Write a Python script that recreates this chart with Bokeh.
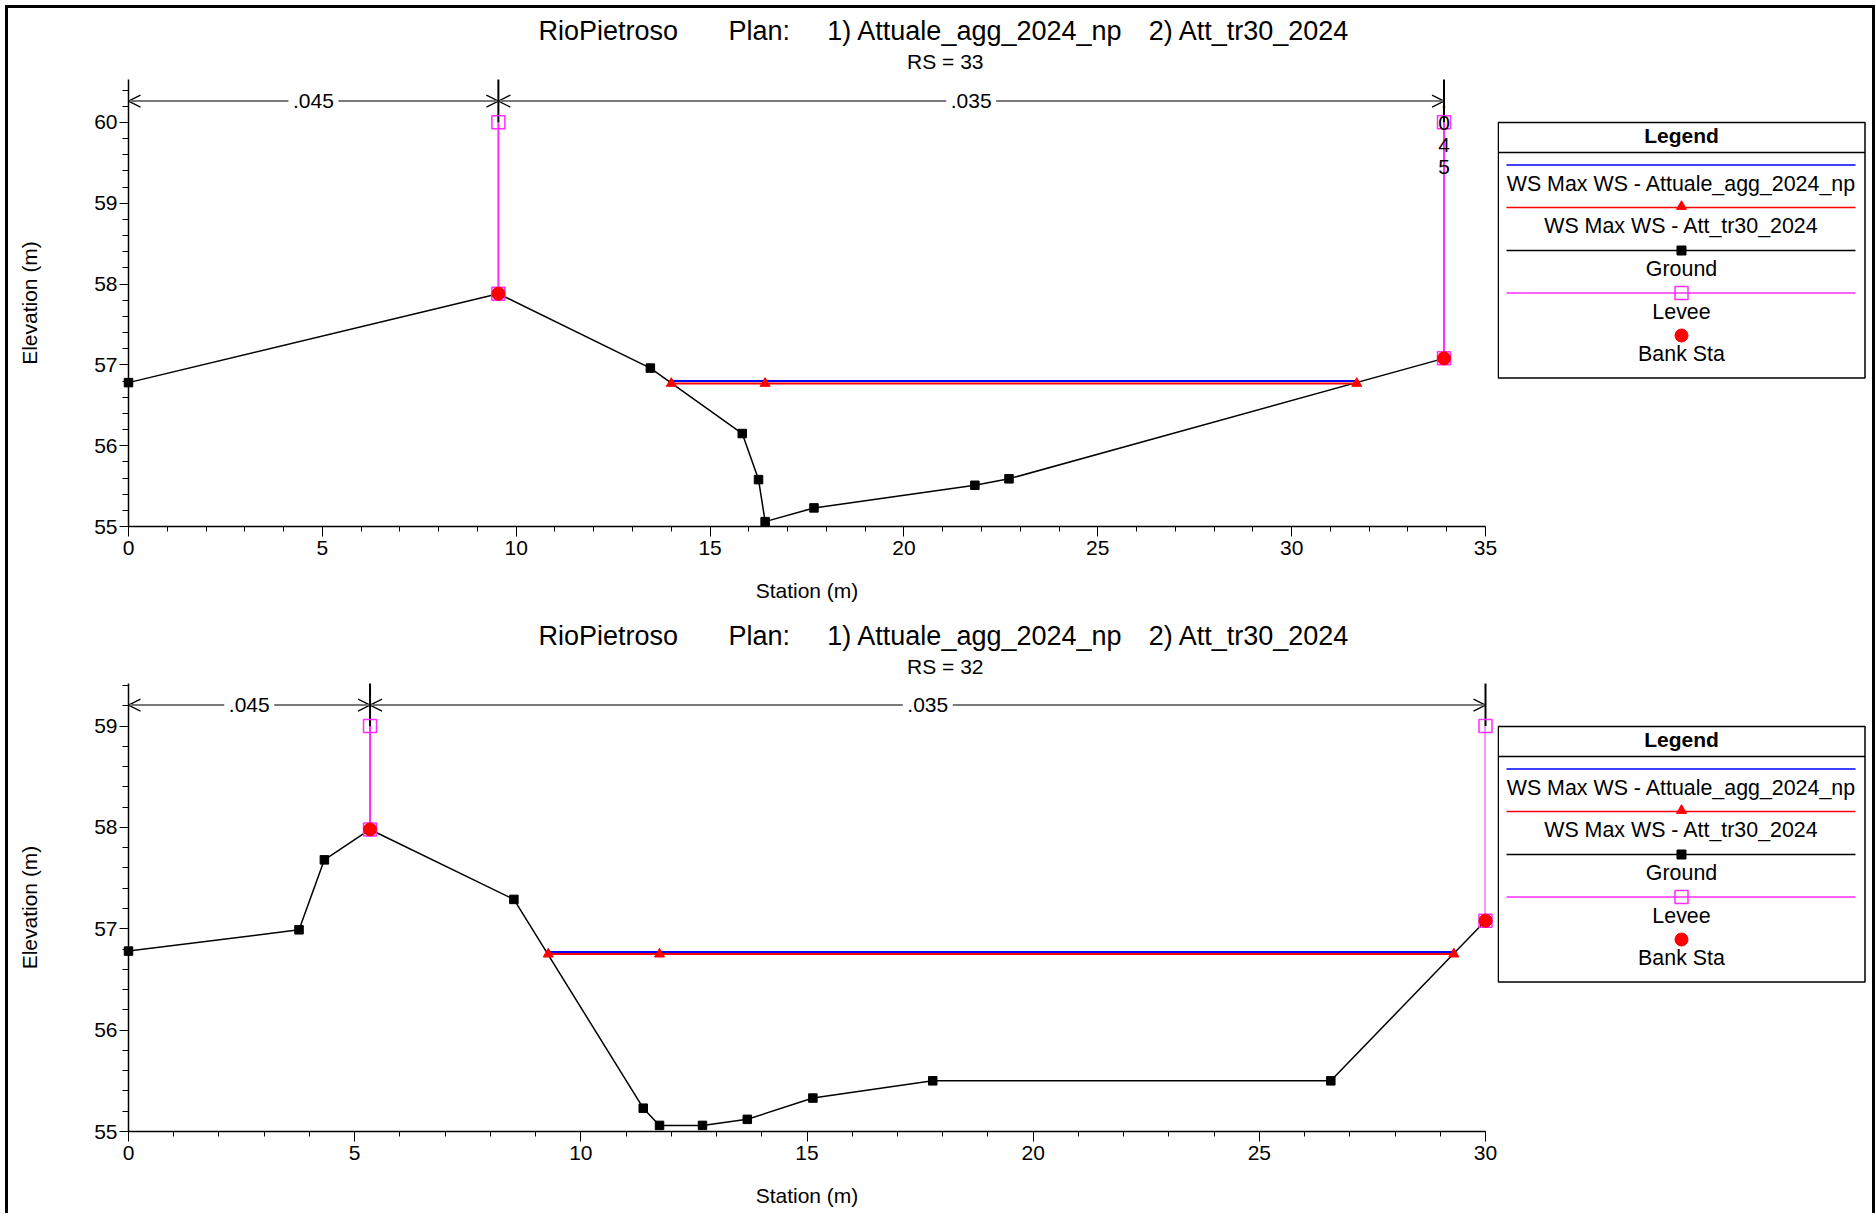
from bokeh.plotting import figure
from bokeh.models import Range1d, SingleIntervalTicker, Arrow, OpenHead, Div, Spacer
from bokeh.layouts import column, row
from bokeh.embed import file_html
from bokeh.resources import INLINE
from bokeh.core.properties import value

# ---------------------------------------------------------------- data
river = "RioPietroso"
plan_label = "Plan:"
plan_1 = "1) Attuale_agg_2024_np"
plan_2 = "2) Att_tr30_2024"
x_label = "Station (m)"
y_label = "Elevation (m)"
legend_title = "Legend"
legend_labels = ["WS Max WS - Attuale_agg_2024_np", "WS Max WS - Att_tr30_2024",
                 "Ground", "Levee", "Bank Sta"]

# RS = 33
rs33_label = "RS = 33"
rs33_station = [0.0, 9.54, 13.46, 15.83, 16.25, 16.42, 17.68, 21.83, 22.71, 33.93]
rs33_ground = [56.78, 57.88, 56.96, 56.15, 55.58, 55.06, 55.23, 55.51, 55.59, 57.08]
rs33_ws1_station = [14.00, 31.68]
rs33_ws1 = [56.80, 56.80]
rs33_ws2_station = [14.00, 16.42, 31.68]
rs33_ws2 = [56.77, 56.77, 56.77]
rs33_levee_station = [9.54, 33.93]
rs33_levee_top = [60.0, 60.0]
rs33_levee_base = [57.88, 57.08]
rs33_bank_station = [9.54, 33.93]
rs33_bank_elev = [57.88, 57.08]
rs33_n_bounds = [0.0, 9.54, 33.93, 33.93]
rs33_n_values = [".045", ".035", ".045"]
rs33_x_range = (0, 35)
rs33_y_range = (55, 60.53)
rs33_bank_line_low = 60.0

# RS = 32
rs32_label = "RS = 32"
rs32_station = [0.0, 3.77, 4.33, 5.34, 8.52, 11.38, 11.74, 12.69, 13.68, 15.13, 17.78, 26.58, 30.0]
rs32_ground = [56.78, 56.99, 57.68, 57.98, 57.29, 55.23, 55.06, 55.06, 55.12, 55.33, 55.50, 55.50, 57.08]
rs32_ws1_station = [9.28, 29.30]
rs32_ws1 = [56.77, 56.77]
rs32_ws2_station = [9.28, 11.74, 29.30]
rs32_ws2 = [56.75, 56.75, 56.75]
rs32_levee_station = [5.34, 30.0]
rs32_levee_top = [59.0, 59.0]
rs32_levee_base = [57.98, 57.08]
rs32_bank_station = [5.34, 30.0]
rs32_bank_elev = [57.98, 57.08]
rs32_n_bounds = [0.0, 5.34, 30.0]
rs32_n_values = [".045", ".035"]
rs32_x_range = (0, 30)
rs32_y_range = (55, 59.42)
rs32_bank_line_low = 59.0

# ---------------------------------------------------------------- style
FONT = "Liberation Sans"
BLUE = "#0000FF"
RED = "#FF0000"
MAG = "#FF2EFF"
GREY = "#7a7a7a"
TOTAL_W = 1864
MAIN_W = 1489
LEG_W = TOTAL_W - MAIN_W


def base_fig(w, h, **kw):
    p = figure(width=w, height=h, output_backend="svg", toolbar_location=None, **kw)
    p.outline_line_color = None
    p.background_fill_color = "white"
    p.border_fill_color = "white"
    return p


def title_fig(h, rs_text):
    t = base_fig(TOTAL_W, h, x_range=Range1d(0, TOTAL_W), y_range=Range1d(h, 0),
                 min_border=0, x_axis_type=None, y_axis_type=None)
    t.grid.visible = False
    t.text(x=[530, 720, 818.8, 1140.2], y=[22.2] * 4,
           text=[river, plan_label, plan_1, plan_2],
           text_font=value(FONT), text_font_size="27px", text_color="black",
           text_align="left", text_baseline="middle")
    t.text(x=[936.8], y=[53.4], text=[rs_text], text_font=value(FONT),
           text_font_size="21px", text_color="black", text_align="center",
           text_baseline="middle")
    return t


def legend_fig(h, frame_h):
    L = base_fig(LEG_W, h, x_range=Range1d(0, LEG_W), y_range=Range1d(frame_h, 0),
                 min_border_left=0, min_border_right=0, min_border_top=0,
                 min_border_bottom=h - frame_h, x_axis_type=None, y_axis_type=None)
    L.grid.visible = False
    L.quad(left=[0.75], right=[367.5], top=[43], bottom=[298.5], fill_color=None,
           line_color="black", line_width=1.5)
    L.segment(x0=[0.75], y0=[73], x1=[367.5], y1=[73], line_color="black", line_width=1.5)
    L.text(x=[184], y=[56], text=[legend_title], text_font=value(FONT),
           text_font_size="21px", text_font_style="bold", text_color="black",
           text_align="center", text_baseline="middle")
    line_y = [85.5, 128, 171, 213.5, 256]
    lab_y = [104.5, 146, 189, 232, 274]
    line_cols = [BLUE, RED, "black", MAG]
    L.segment(x0=[9] * 4, y0=line_y[:4], x1=[358] * 4, y1=line_y[:4],
              line_color=line_cols, line_width=1.5)
    L.scatter(x=[184], y=[line_y[1] - 1], marker="triangle", size=10, color=RED)
    L.scatter(x=[184], y=[line_y[2]], marker="square", size=9, color="black")
    L.scatter(x=[184], y=[line_y[3]], marker="square", size=13, fill_color=None,
              line_color=MAG, line_width=1.5)
    L.scatter(x=[184], y=[line_y[4]], marker="circle", size=13, color=RED)
    L.text(x=[184] * 5, y=lab_y, text=legend_labels, text_font=value(FONT),
           text_font_size="21.4px", text_color="black", text_align="center",
           text_baseline="middle")
    return L


def main_fig(h, frame_h, xr, yr, station, ground, ws1_s, ws1, ws2_s, ws2, lev_s, lev_top,
             lev_base, bank_s, bank_e, n_bounds, n_vals, bank_low):
    p = base_fig(MAIN_W, h, x_range=Range1d(*xr), y_range=Range1d(*yr),
                 min_border_left=120, min_border_right=12, min_border_top=0,
                 min_border_bottom=h - frame_h, x_axis_label=x_label, y_axis_label=y_label)
    p.grid.visible = False
    p.xaxis.ticker = SingleIntervalTicker(interval=5, num_minor_ticks=5)
    p.yaxis.ticker = SingleIntervalTicker(interval=1, num_minor_ticks=5)
    for ax in (p.xaxis[0], p.yaxis[0]):
        ax.axis_line_color = "black"
        ax.axis_line_width = 1.5
        ax.major_tick_line_color = "black"
        ax.minor_tick_line_color = "black"
        ax.major_tick_line_width = 1
        ax.minor_tick_line_width = 1
        ax.major_tick_in = 0
        ax.minor_tick_in = 0
        ax.major_label_text_font = FONT
        ax.major_label_text_font_size = "21px"
        ax.major_label_text_color = "black"
        ax.axis_label_text_font = FONT
        ax.axis_label_text_font_size = "21px"
        ax.axis_label_text_font_style = "normal"
        ax.axis_label_text_color = "black"
    p.xaxis.major_tick_out = 10
    p.xaxis.minor_tick_out = 5
    p.xaxis.major_label_standoff = 4
    p.xaxis.axis_label_standoff = 21
    p.yaxis.major_tick_out = 9
    p.yaxis.minor_tick_out = 6
    p.yaxis.major_label_standoff = 2
    p.yaxis.axis_label_standoff = 50

    upp = (yr[1] - yr[0]) / frame_h
    y_arrow = yr[1] - 21.6 * upp

    # roughness zones
    mids, labs = [], []
    stack_x, stack_y, stack_t = [], [], []
    for a, b, lab in zip(n_bounds[:-1], n_bounds[1:], n_vals):
        if b - a > 0:
            arr = Arrow(x_start=a, y_start=y_arrow, x_end=b, y_end=y_arrow,
                        start=OpenHead(size=12, line_color="black", line_width=1.2),
                        end=OpenHead(size=12, line_color="black", line_width=1.2),
                        line_color=GREY, line_width=2, level="underlay")
            p.add_layout(arr)
            mids.append((a + b) / 2)
            labs.append(lab)
        else:
            for k, ch in enumerate(lab):
                stack_x.append(a)
                stack_y.append(y_arrow - k * 22 * upp)
                stack_t.append(ch)
    p.rect(x=mids, y=[y_arrow] * len(mids), width=50, height=18, width_units="screen",
           height_units="screen", fill_color="white", line_color=None)
    p.text(x=mids, y=[y_arrow] * len(mids), text=labs, text_font=value(FONT),
           text_font_size="21px", text_color="black", text_align="center",
           text_baseline="middle")

    bx = sorted(set(n_bounds[1:]))
    p.segment(x0=bx, y0=[bank_low] * len(bx), x1=bx, y1=[yr[1]] * len(bx),
              line_color="black", line_width=2, level="overlay")

    # levee
    p.segment(x0=lev_s, y0=lev_base, x1=lev_s, y1=lev_top, line_color=MAG, line_width=2)
    # ground
    p.line(station, ground, line_color="black", line_width=1.5)
    p.scatter(station, ground, marker="square", size=8.5, color="black", level="overlay")
    # water surfaces
    p.line(ws1_s, ws1, line_color=BLUE, line_width=2)
    p.line(ws2_s, ws2, line_color=RED, line_width=2)
    p.scatter(ws2_s, ws2, marker="triangle", size=10, color=RED)
    # levee markers and bank stations
    p.scatter(lev_s + lev_s, lev_top + lev_base, marker="square", size=13,
              fill_color=None, line_color=MAG, line_width=1.5, level="overlay")
    p.scatter(bank_s, bank_e, marker="circle", size=13, color=RED, level="overlay")

    if stack_t:
        p.text(x=stack_x, y=stack_y, text=stack_t, text_font=value(FONT),
               text_font_size="21px", text_color="black", text_align="center",
               text_baseline="middle", level="overlay")
    return p


H1_T, H1_M, F1 = 71, 534, 447
H2_T, H2_M, F2 = 70, 530, 448

top_title = title_fig(H1_T, rs33_label)
top_main = main_fig(H1_M, F1, rs33_x_range, rs33_y_range, rs33_station, rs33_ground,
                    rs33_ws1_station, rs33_ws1, rs33_ws2_station, rs33_ws2,
                    rs33_levee_station, rs33_levee_top, rs33_levee_base,
                    rs33_bank_station, rs33_bank_elev, rs33_n_bounds, rs33_n_values,
                    rs33_bank_line_low)
top_leg = legend_fig(H1_M, F1)

bot_title = title_fig(H2_T, rs32_label)
bot_main = main_fig(H2_M, F2, rs32_x_range, rs32_y_range, rs32_station, rs32_ground,
                    rs32_ws1_station, rs32_ws1, rs32_ws2_station, rs32_ws2,
                    rs32_levee_station, rs32_levee_top, rs32_levee_base,
                    rs32_bank_station, rs32_bank_elev, rs32_n_bounds, rs32_n_values,
                    rs32_bank_line_low)
bot_leg = legend_fig(H2_M, F2)

content = column(top_title, row(top_main, top_leg), bot_title, row(bot_main, bot_leg))
content_h = H1_T + H1_M + H2_T + H2_M
side_h = content_h + 3

black = {"background-color": "black"}
framed = row(
    Spacer(width=5, height=side_h, margin=0),
    Div(text="", width=3, height=side_h, styles=black, margin=0),
    column(Div(text="", width=TOTAL_W, height=3, styles=black, margin=0), content),
    Div(text="", width=3, height=side_h, styles=black, margin=0),
)
layout = column(Spacer(width=5 + 3 + TOTAL_W + 3, height=5, margin=0), framed)

open("out.html", "w").write(file_html(layout, INLINE, title="RioPietroso"))
